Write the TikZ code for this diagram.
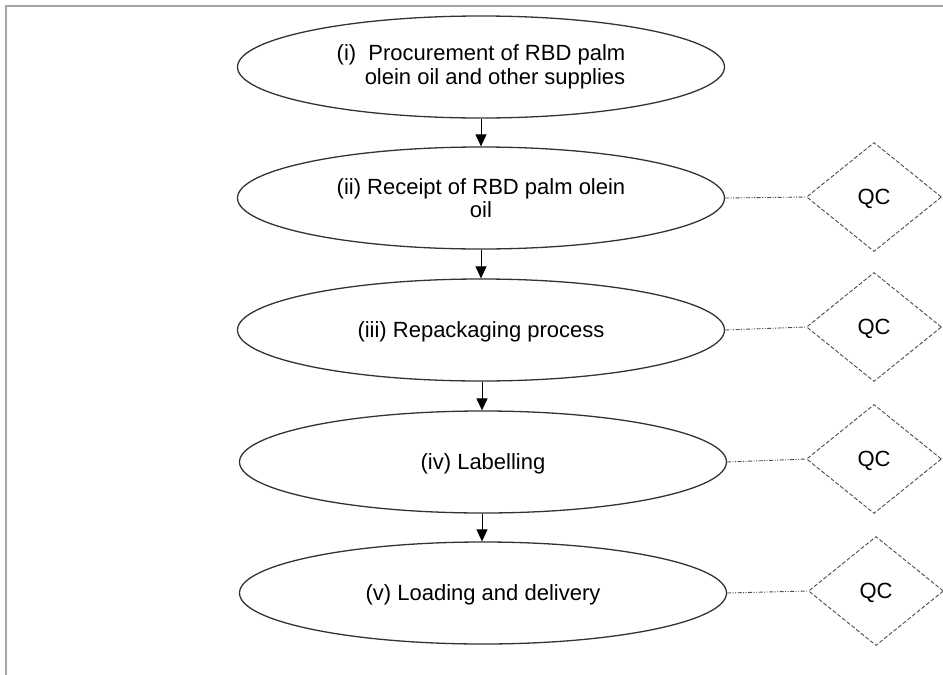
\documentclass[tikz,border=0pt]{standalone}
\usepackage{fontspec}
\setmainfont{Liberation Sans}
\usetikzlibrary{shapes.geometric,arrows.meta}
\tikzset{
  stage/.style={ellipse, draw=black!80, line width=1.3pt, minimum width=487pt,
    minimum height=102pt, inner sep=0pt, align=center, font=\fontsize{22}{23.5}\selectfont},
  oneline/.style={text depth=0pt},
  qc/.style={diamond, draw=black!70, line width=0.9pt, dashed, dash pattern=on 4pt off 2pt,
    minimum width=135pt, minimum height=109pt, inner sep=0pt, text depth=0pt,
    font=\fontsize{22}{23.5}\selectfont},
  flow/.style={draw=black, line width=1pt, -{Triangle[length=12pt,width=11pt]}},
  link/.style={draw=black!70, line width=0.9pt, dash pattern=on 4pt off 1.5pt on 1pt off 1.5pt on 1pt off 1.5pt},
  frameline/.style={draw=black!35, line width=1.6pt}
}
\begin{document}
\begin{tikzpicture}[x=1pt,y=-1pt]
  \useasboundingbox (0,0) rectangle (943,675);
  \fill[white] (0,0) rectangle (943,675);
  \draw[frameline] (6,680) -- (6,6) -- (950,6);

  % process stages
  \node[stage, align=right] (s1) at (481,67) {(i)\ \ Procurement of RBD palm\\olein oil and other supplies};
  \node[stage] (s2) at (481,198) {(ii) Receipt of RBD palm olein\\oil};
  \node[stage, oneline] (s3) at (481,330) {(iii) Repackaging process};
  \node[stage, oneline] (s4) at (483,462) {(iv) Labelling};
  \node[stage, oneline] (s5) at (483,593) {(v) Loading and delivery};

  % quality checks
  \node[qc] (q2) at (874,197) {QC};
  \node[qc] (q3) at (874,327) {QC};
  \node[qc] (q4) at (874,459) {QC};
  \node[qc] (q5) at (876,591) {QC};

  % flow between stages, kept vertical
  \draw[flow] (s1.south) -- (s1.south |- s2.north);
  \draw[flow] (s2.south) -- (s2.south |- s3.north);
  \draw[flow] ([xshift=1pt]s3.south) -- ([xshift=1pt]s3.south |- s4.north);
  \draw[flow] ([xshift=-1pt]s4.south) -- ([xshift=-1pt]s4.south |- s5.north);

  % links to quality checks
  \draw[link] (s2.east) -- (q2.west);
  \draw[link] (s3.east) -- (q3.west);
  \draw[link] (s4.east) -- (q4.west);
  \draw[link] (s5.east) -- (q5.west);
\end{tikzpicture}
\end{document}
